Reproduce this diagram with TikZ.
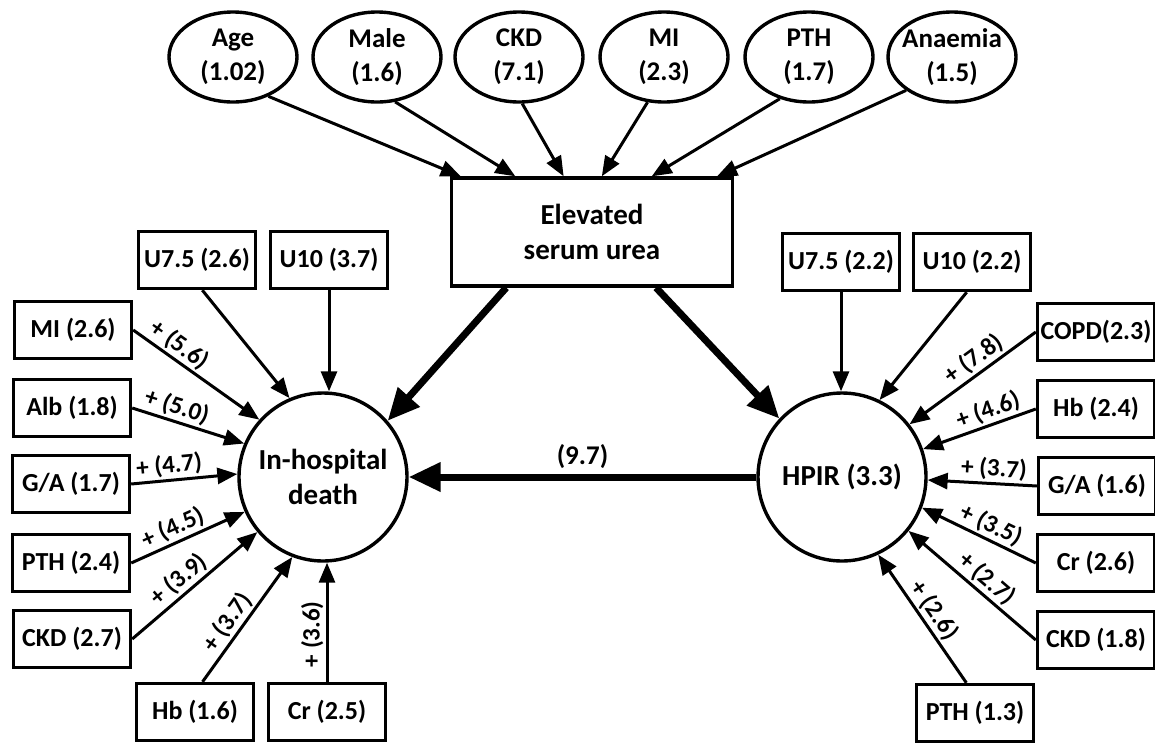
\documentclass[tikz,border=0pt]{standalone}
\usepackage{fontspec}
\setmainfont{Carlito}
\usetikzlibrary{arrows.meta,shapes.geometric}

\tikzset{
  factor/.style={draw, line width=3.4pt, ellipse, minimum width=128pt, minimum height=90pt,
    inner xsep=-10pt, inner ysep=0pt, align=center, font=\bfseries\fontsize{27}{34}\selectfont},
  outcome/.style={draw, line width=3.4pt, circle, minimum size=168pt, inner sep=0pt,
    align=center, font=\bfseries\fontsize{29}{35}\selectfont},
  ureabox/.style={draw, line width=3.4pt, minimum width=281pt, minimum height=108pt,
    align=center, font=\bfseries\fontsize{29}{35}\selectfont},
  predictor/.style={draw, line width=3.4pt, minimum width=117pt, minimum height=57pt,
    inner sep=1pt, font=\bfseries\fontsize{26}{30}\selectfont},
  link/.style={-{Triangle[length=20pt,width=16pt]}, line width=3pt},
  mainlink/.style={-{Triangle[length=32pt,width=28pt]}, line width=7pt},
  oddsratio/.style={above, sloped, inner sep=2pt, font=\bfseries\fontsize{25}{30}\selectfont}
}

\begin{document}
\begin{tikzpicture}[x=1pt, y=-1pt]
      \useasboundingbox (0,0) rectangle (1155,742);
      \node[factor] (age) at (233,57) {Age\\(1.02)};
      \node[factor] (male) at (377,57) {Male\\(1.6)};
      \node[factor] (ckd) at (519,57) {CKD\\(7.1)};
      \node[factor] (mi) at (664,57) {MI\\(2.3)};
      \node[factor] (pth) at (809,57) {PTH\\(1.7)};
      \node[factor] (anaemia) at (952,57) {Anaemia\\(1.5)};
      \node[ureabox] (urea) at (592,232) {Elevated\\serum urea};
      \node[outcome] (death) at (323,477) {In-hospital\\death};
      \node[outcome] (hpir) at (842,477) {HPIR (3.3)};
      \node[predictor] (u75l) at (197,260) {U7.5 (2.6)};
      \node[predictor] (u10l) at (329,260) {U10 (3.7)};
      \node[predictor] (mil) at (73,330) {MI (2.6)};
      \node[predictor] (albl) at (72,408) {Alb (1.8)};
      \node[predictor] (gal) at (71,484) {G/A (1.7)};
      \node[predictor] (pthl) at (71,563) {PTH (2.4)};
      \node[predictor] (ckdl) at (72,639) {CKD (2.7)};
      \node[predictor] (hbl) at (195,712) {Hb (1.6)};
      \node[predictor] (crl) at (327,712) {Cr (2.5)};
      \node[predictor] (u75r) at (841,262) {U7.5 (2.2)};
      \node[predictor] (u10r) at (972,262) {U10 (2.2)};
      \node[predictor] (copdr) at (1096,332) {COPD(2.3)};
      \node[predictor] (hbr) at (1096,409) {Hb (2.4)};
      \node[predictor] (gar) at (1097,486) {G/A (1.6)};
      \node[predictor] (crr) at (1096,563) {Cr (2.6)};
      \node[predictor] (ckdr) at (1096,640) {CKD (1.8)};
      \node[predictor] (pthr) at (975,713) {PTH (1.3)};
      \begin{scope}[link]
        \draw (age.-48) to (urea.157);
        \draw (male.-68) to (urea.144);
        \draw (ckd.-86) to (urea.117);
        \draw (mi.-110) to (urea.80);
        \draw (pth.-125) to (urea.43);
        \draw (anaemia.-144) to (urea.24);
        \draw (u75l.-80) to (death.113);
        \draw (u10l.south) to (u10l.south |- death.north);
        \draw (mil.east) to node[oddsratio, pos=0.3] {+ (5.6)} (death.138);
        \draw (albl.east) to node[oddsratio, pos=0.36] {+ (5.0)} (death.157);
        \draw (gal.east) to node[oddsratio, pos=0.37] {+ (4.7)} (death.178);
        \draw (pthl.east) to node[oddsratio, pos=0.42] {+ (4.5)} (death.204);
        \draw (ckdl.east) to node[oddsratio, pos=0.45] {+ (3.9)} (death.220);
        \draw (hbl.76) to node[oddsratio, pos=0.41] {+ (3.7)} (death.249);
        \draw (crl.north) to node[oddsratio, pos=0.4] {+ (3.6)} (crl.north |- death.south);
        \draw (u75r.south) to (u75r.south |- hpir.north);
        \draw (u10r.-100) to (hpir.64);
        \draw (copdr.west) to node[oddsratio, pos=0.42] {+ (7.8)} (hpir.38);
        \draw (hbr.west) to node[oddsratio, pos=0.38] {+ (4.6)} (hpir.19);
        \draw (gar.west) to node[oddsratio, pos=0.4] {+ (3.7)} (hpir.-2);
        \draw (crr.west) to node[oddsratio, pos=0.45] {+ (3.5)} (hpir.-21);
        \draw (ckdr.west) to node[oddsratio, pos=0.46] {+ (2.7)} (hpir.-39);
        \draw (pthr.106) to node[oddsratio, pos=0.5] {+ (2.6)} (hpir.-65);
      \end{scope}
      \begin{scope}[mainlink]
        \draw (urea.-147) to (death.41);
        \draw (urea.-41) to (hpir.137);
        \draw (hpir.west) to node[midway, above, inner sep=5pt,
          font=\bfseries\fontsize{27}{30}\selectfont] {(9.7)} (death.east);
      \end{scope}
    \end{tikzpicture}
\end{document}
